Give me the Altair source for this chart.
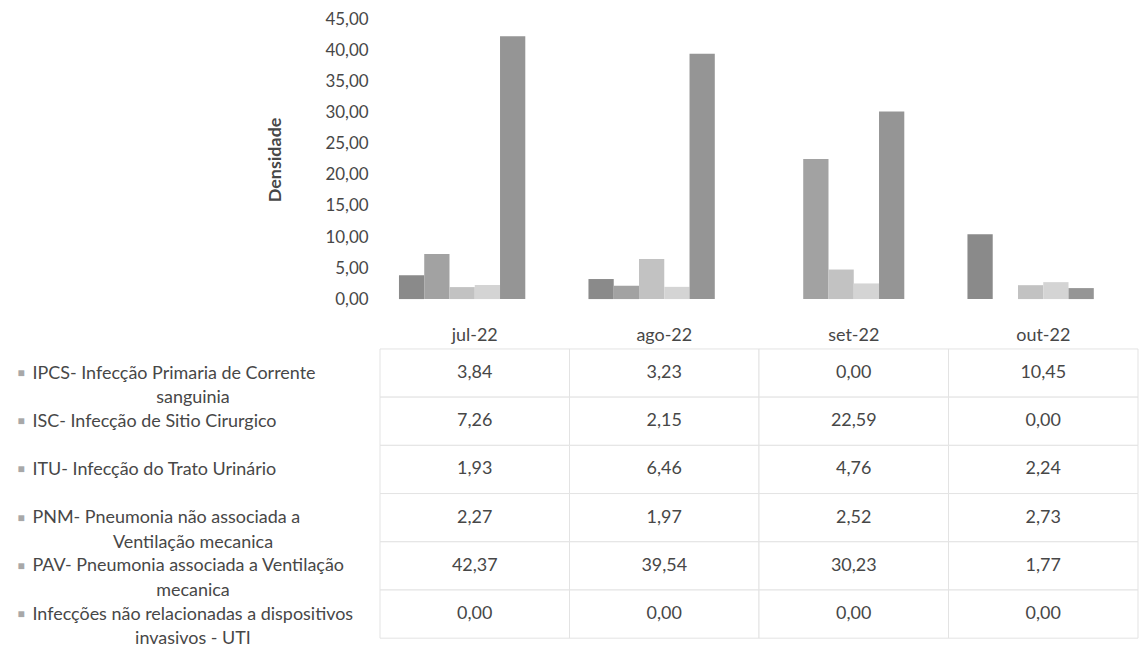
import altair as alt
import pandas as pd

months = ["jul-22", "ago-22", "set-22", "out-22"]
series = [
    "IPCS- Infecção Primaria de Corrente\nsanguinia",
    "ISC- Infecção de Sitio Cirurgico",
    "ITU- Infecção do Trato Urinário",
    "PNM- Pneumonia não associada a\nVentilação mecanica",
    "PAV- Pneumonia associada a Ventilação\nmecanica",
    "Infecções não relacionadas a dispositivos\ninvasivos - UTI",
]
ipcs = [3.84, 3.23, 0.00, 10.45]
isc = [7.26, 2.15, 22.59, 0.00]
itu = [1.93, 6.46, 4.76, 2.24]
pnm = [2.27, 1.97, 2.52, 2.73]
pav = [42.37, 39.54, 30.23, 1.77]
nao = [0.00, 0.00, 0.00, 0.00]
y_ticks = [0, 5, 10, 15, 20, 25, 30, 35, 40, 45]
colors = ["#8a8a8a", "#a2a2a2", "#c2c2c2", "#d4d4d4", "#959595", "#b0b0b0"]

rows = []
for s, vals in zip(series, [ipcs, isc, itu, pnm, pav, nao]):
    for m, v in zip(months, vals):
        rows.append({"mes": m, "serie": s, "valor": v})
df = pd.DataFrame(rows)

FONT = "Lato"
TXT = "#474747"
FS = 18

bars = alt.Chart(df).mark_bar().encode(
    x=alt.X("mes:N", sort=months, axis=None,
            scale=alt.Scale(domain=months, paddingInner=0.2, paddingOuter=0.1)),
    xOffset=alt.XOffset("serie:N", scale=alt.Scale(domain=series)),
    y=alt.Y("valor:Q", scale=alt.Scale(domain=[0, 45]),
            axis=alt.Axis(values=y_ticks, grid=False, domain=False, ticks=False, tickSize=0,
                          labelExpr="replace(format(datum.value, '.2f'), '.', ',')",
                          labelPadding=12, labelFont=FONT, labelFontSize=17, labelColor=TXT,
                          title="Densidade", titleFont=FONT, titleFontSize=18,
                          titleFontWeight="bold", titleColor=TXT, titlePadding=40)),
    color=alt.Color("serie:N", scale=alt.Scale(domain=series, range=colors), legend=None),
).properties(width=760, height=280)

NL = "split(datum.value, '\\n')"
x_axis = alt.Axis(orient="top", title=None, domain=False, ticks=False, tickSize=0, labelAngle=0,
                  labelPadding=4, labelFont=FONT, labelFontSize=FS, labelColor=TXT)
xsc = alt.Scale(domain=months, paddingInner=0, paddingOuter=0)
ysc = alt.Scale(domain=series, paddingInner=0, paddingOuter=0)

axis_swatch = alt.Axis(orient="left", title=None, domain=False, ticks=False, tickSize=0, grid=False,
                       labelAlign="left", labelPadding=364, labelLimit=0,
                       labelExpr=f"length({NL}) > 1 ? ['■', ''] : '■'",
                       labelFont=FONT, labelFontSize=12, labelColor="#a8a8a8", labelLineHeight=25)
axis_first = alt.Axis(orient="left", title=None, domain=False, ticks=False, tickSize=0, grid=False,
                      labelAlign="left", labelPadding=349, labelLimit=0,
                      labelExpr=f"length({NL}) > 1 ? [{NL}[0], ''] : datum.value",
                      labelFont=FONT, labelFontSize=FS, labelColor=TXT, labelLineHeight=25)
axis_second = alt.Axis(orient="left", title=None, domain=False, ticks=False, tickSize=0, grid=False,
                       labelAlign="center", labelPadding=188, labelLimit=0,
                       labelExpr=f"length({NL}) > 1 ? ['', {NL}[1]] : ''",
                       labelFont=FONT, labelFontSize=FS, labelColor=TXT, labelLineHeight=25)

base = alt.Chart(df).transform_calculate(
    txt="replace(format(datum.valor, '.2f'), '.', ',')"
)
cells = base.mark_rect(fill="white", stroke="#e3e3e3", strokeWidth=1).encode(
    x=alt.X("mes:N", scale=xsc, axis=x_axis),
    y=alt.Y("serie:N", scale=ysc, axis=axis_swatch),
)
values = base.mark_text(font=FONT, fontSize=FS, color=TXT).encode(
    x=alt.X("mes:N", scale=xsc, axis=x_axis),
    y=alt.Y("serie:N", scale=ysc, axis=axis_first),
    text="txt:N",
)
ghost = base.mark_rect(opacity=0).encode(
    x=alt.X("mes:N", scale=xsc, axis=x_axis),
    y=alt.Y("serie:N", scale=ysc, axis=axis_second),
)
table = alt.layer(cells, values, ghost).resolve_scale(y="independent").resolve_axis(
    y="independent").properties(width=760, height=290)

chart = alt.vconcat(bars, table, spacing=50, bounds="flush").resolve_scale(
    x="independent", y="independent", color="independent"
).properties(
    padding={"left": 9, "top": 2, "right": 0, "bottom": 0}
).configure_view(stroke=None)

chart.save("out.html", embed_options={"renderer": "svg", "actions": False})
